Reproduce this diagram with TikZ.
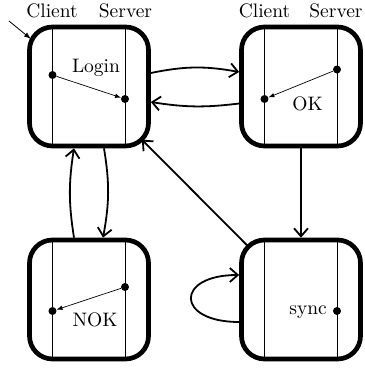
\documentclass[tikz,border=0pt]{standalone}
\usepackage{graphicx}
\usetikzlibrary{arrows.meta,calc}
\newcommand{\bigtxt}[1]{\scalebox{1.95}{#1}}
\begin{document}
\begin{tikzpicture}[x=1pt,y=-1pt,
  state/.style={draw, line width=4.7pt, rounded corners=23pt, minimum width=119pt, minimum height=119pt, inner sep=0pt},
  life/.style={line width=0.8pt},
  dot/.style={circle, fill, inner sep=0pt, minimum size=8pt},
  msg/.style={line width=0.7pt, -{Latex[length=6pt,width=4.5pt]}},
  trans/.style={line width=1.8pt, -{Straight Barb[length=8pt,width=14pt]}},
  initarr/.style={line width=0.8pt, -{Latex[length=7pt,width=5pt]}},
  lbl/.style={font=\fontsize{10}{12}\selectfont, inner sep=0pt, anchor=base},
]
\useasboundingbox (0,0) rectangle (365,368);
% states
\node[state] (login) at (89,86.5) {};
\node[state] (ok) at (301,86.5) {};
\node[state] (nok) at (89,299.5) {};
\node[state] (sync) at (301,299.5) {};
% lifelines
\foreach \s in {login,ok,nok,sync}{
  \draw[life] ([xshift=-36.5pt]\s.north) -- ([xshift=-36.5pt]\s.south);
  \draw[life] ([xshift=36pt]\s.north) -- ([xshift=36pt]\s.south);
}
% headers
\node[lbl] (c1) at (52,17) {\bigtxt{Client}};
\node[lbl] (s1) at (125.5,17) {\bigtxt{Server}};
\node[lbl] (c2) at (264.5,17) {\bigtxt{Client}};
\node[lbl] (s2) at (336,17) {\bigtxt{Server}};
% state contents
\node[lbl] (tlogin) at (96,72) {\bigtxt{Login}};
\node[dot] (l1) at (52.5,75) {};
\node[dot] (l2) at (125,99) {};
\draw[msg] (l1) -- (l2);
\node[lbl] (tok) at (307.5,110) {\bigtxt{OK}};
\node[dot] (o1) at (337,69.5) {};
\node[dot] (o2) at (264.5,99) {};
\draw[msg] (o1) -- (o2);
\node[lbl] (tnok) at (95,326.5) {\bigtxt{NOK}};
\node[dot] (n1) at (125,287) {};
\node[dot] (n2) at (52.5,311) {};
\draw[msg] (n1) -- (n2);
\node[dot] (y1) at (337,311) {};
\node[lbl, anchor=base east] (tsync) at (327,314) {\bigtxt{sync}};
% initial arrow
\coordinate (init) at (9,21);
\draw[initarr] (init) -- ($(login.center)!75pt!(init)$);
% transitions
\draw[trans] ([yshift=13.5pt]login.east) to[bend left=11] ([yshift=14.5pt]ok.west);
\draw[trans] ([yshift=-17pt]ok.west) to[bend left=8] ([yshift=-15.5pt]login.east);
\draw[trans] ([xshift=15pt]login.south) to[bend left=10] ([xshift=14pt]nok.north);
\draw[trans] ([xshift=-15pt]nok.north) to[bend left=9] ([xshift=-15pt]login.south);
\draw[trans] (ok.south) -- (sync.north);
\draw[trans] ($(sync.center)!75pt!(login.center)$) -- ($(login.center)!75pt!(sync.center)$);
\draw[trans] ([yshift=-22.5pt]sync.west) .. controls +(-64,0) and +(-64,0) .. ([yshift=24.5pt]sync.west);
\end{tikzpicture}
\end{document}
